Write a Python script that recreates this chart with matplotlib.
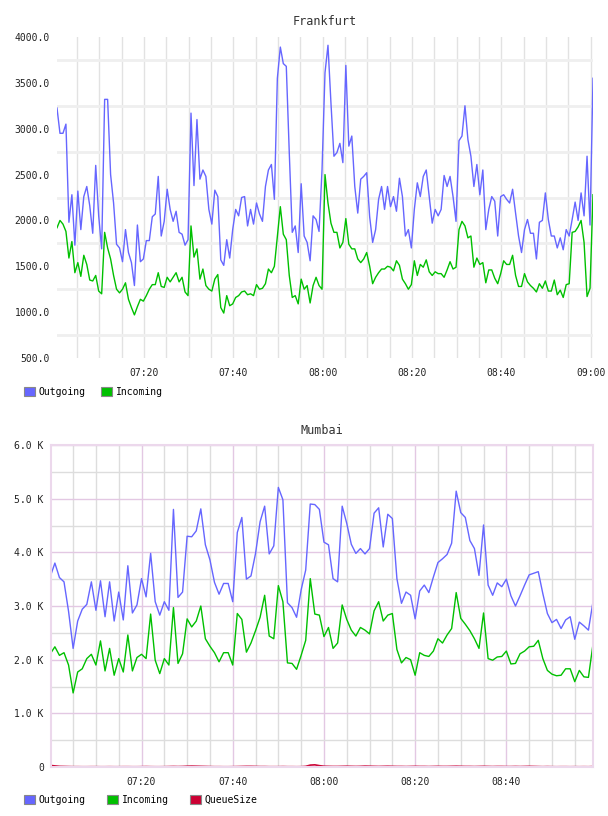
import matplotlib
matplotlib.use('Agg')
import matplotlib.pyplot as plt
import matplotlib.dates as mdates
from matplotlib.patches import Patch
from matplotlib.ticker import MultipleLocator, FixedLocator, FuncFormatter
import numpy as np

plt.rcParams['font.family'] = ['DejaVu Sans Mono']

BLUE = '#6666ff'
GREEN = '#00c000'
RED = '#cc0033'

# Frankfurt: one sample every 40 s starting 07:00:30
fra_start = np.datetime64('2020-01-01T07:00:30')
fra_out = [3225, 2950, 2950, 3050, 1980, 2280, 1730, 2320, 1900, 2260, 2370, 2160,
           1860, 2600, 2050, 1690, 3320, 3320, 2500, 2190, 1740, 1700, 1550, 1900,
           1650, 1540, 1290, 1950, 1550, 1580, 1780, 1780, 2040, 2070, 2480, 1830,
           1990, 2340, 2120, 1990, 2100, 1870, 1850, 1730, 1790, 3170, 2380, 3100,
           2450, 2550, 2480, 2120, 1960, 2330, 2260, 1570, 1510, 1790, 1590, 1900,
           2120, 2050, 2250, 2260, 1940, 2120, 1960, 2190, 2070, 1990, 2370, 2550,
           2610, 2230, 3550, 3890, 3710, 3680, 2740, 1870, 1940, 1650, 2400, 1830,
           1760, 1560, 2050, 2010, 1880, 2550, 3610, 3910, 3280, 2700, 2740, 2840,
           2630, 3690, 2810, 2920, 2370, 2080, 2450, 2480, 2520, 2040, 1760,
           1900, 2230, 2370, 2120, 2370, 2150, 2260, 2100, 2460, 2260, 1830, 1900,
           1700, 2120, 2410, 2260, 2480, 2550, 2260, 1970, 2120, 2050, 2120, 2490,
           2370, 2480, 2260, 1990, 2870, 2920, 3250, 2880, 2700, 2370, 2610, 2280,
           2550, 1900, 2120, 2260, 2210, 1830, 2260, 2280, 2230, 2190, 2340, 2080,
           1830, 1650, 1900, 2010, 1860, 1860, 1580, 1980, 2000, 2300, 2010, 1830,
           1830, 1700, 1810, 1680, 1900, 1830, 2010, 2200, 2000, 2300, 2050, 2700,
           1950, 3550]
fra_in = [1920, 2000, 1960, 1880, 1590, 1770, 1430, 1540, 1390, 1620, 1520, 1350,
          1340, 1400, 1230, 1200, 1870, 1700, 1580, 1400, 1250, 1210, 1250, 1320,
          1140, 1050, 970, 1060, 1140, 1120, 1180, 1250, 1300, 1300, 1430, 1280,
          1270, 1380, 1330, 1380, 1430, 1330, 1380, 1220, 1180, 1940, 1600, 1690,
          1360, 1470, 1290, 1250, 1230, 1360, 1410, 1050, 990, 1180, 1070, 1090,
          1160, 1180, 1220, 1230, 1190, 1200, 1180, 1300, 1250, 1260, 1310, 1470,
          1430, 1500, 1830, 2150, 1850, 1790, 1400, 1160, 1180, 1090, 1360, 1250,
          1290, 1100, 1290, 1380, 1290, 1250, 2500, 2190, 1970, 1870, 1870, 1700,
          1760, 2020, 1740, 1690, 1690, 1580, 1540, 1580, 1650, 1500, 1310,
          1380, 1430, 1470, 1470, 1500, 1490, 1450, 1560, 1510, 1360, 1310, 1250,
          1300, 1560, 1400, 1520, 1490, 1570, 1440, 1400, 1440, 1420, 1420, 1380,
          1460, 1550, 1470, 1490, 1900, 1990, 1940, 1810, 1830, 1490, 1590, 1520,
          1540, 1320, 1460, 1460, 1370, 1310, 1420, 1560, 1520, 1520, 1620, 1400,
          1280, 1280, 1420, 1330, 1290, 1260, 1220, 1310, 1260, 1340, 1230, 1230,
          1350, 1190, 1240, 1160, 1300, 1310, 1870, 1880, 1930, 2000, 1760, 1170,
          1260, 2280]
fra_times = fra_start + np.arange(len(fra_out)) * np.timedelta64(40, 's')

# Mumbai: one sample per minute starting 07:00
mum_start = np.datetime64('2020-01-01T07:00')
mum_out = [3550, 3800, 3530, 3450, 2900, 2210, 2720, 2940, 3030, 3450, 2920, 3470,
           2800, 3450, 2720, 3260, 2740, 3750, 2870, 3020, 3510, 3170, 3980, 3080,
           2830, 3080, 2920, 4800, 3160, 3260, 4300, 4290, 4400, 4810, 4140, 3860,
           3440, 3220, 3420, 3420, 3080, 4370, 4650, 3500, 3560, 3980, 4570, 4860,
           3970, 4120, 5210, 4980, 3060, 2970, 2790, 3300, 3670, 4900, 4890, 4800,
           4190, 4140, 3510, 3450, 4860, 4540, 4150, 3980, 4070, 3970, 4070, 4730,
           4830, 4100, 4710, 4630, 3510, 3050, 3260, 3200, 2760, 3280, 3390, 3250,
           3540, 3810, 3880, 3960, 4170, 5140, 4740, 4650, 4220, 4070, 3570, 4510,
           3390, 3200, 3430, 3360, 3500, 3190, 3000, 3190, 3390, 3580, 3610, 3640,
           3230, 2860, 2690, 2750, 2580, 2740, 2800, 2380, 2700, 2630, 2550, 3080]
mum_in = [2110, 2240, 2080, 2130, 1900, 1380, 1770, 1830, 2020, 2100, 1900, 2350,
          1790, 2210, 1710, 2020, 1770, 2460, 1790, 2040, 2100, 2020, 2850, 1990,
          1740, 2020, 1900, 2970, 1930, 2110, 2760, 2610, 2720, 3000, 2390, 2250,
          2130, 1960, 2130, 2130, 1900, 2860, 2750, 2140, 2310, 2540, 2790, 3200,
          2440, 2390, 3380, 3080, 1940, 1930, 1820, 2080, 2360, 3510, 2850, 2830,
          2430, 2600, 2210, 2310, 3020, 2750, 2550, 2440, 2600, 2550, 2480, 2910,
          3080, 2720, 2830, 2860, 2190, 1940, 2040, 2000, 1710, 2130, 2080, 2060,
          2160, 2390, 2310, 2460, 2580, 3250, 2770, 2660, 2540, 2390, 2210, 2870,
          2020, 1990, 2050, 2060, 2160, 1920, 1930, 2110, 2160, 2240, 2250, 2360,
          2020, 1800, 1730, 1700, 1710, 1830, 1830, 1590, 1800, 1680, 1670, 2290]
mum_queue = [30, 20, 12, 10, 8, 6, 6, 5, 5, 6, 6, 5, 5, 6, 5, 5, 6, 6, 5, 5,
             6, 8, 6, 5, 5, 6, 8, 10, 8, 10, 14, 16, 14, 12, 10, 8, 6, 6, 5, 5,
             6, 8, 10, 12, 12, 10, 8, 8, 6, 6, 6, 8, 6, 6, 5, 6, 12, 35, 40, 25,
             14, 12, 10, 10, 12, 14, 12, 10, 12, 16, 14, 12, 10, 12, 14, 12, 10, 10,
             8, 10, 12, 10, 10, 8, 10, 12, 10, 10, 12, 14, 12, 10, 10, 8, 10, 12,
             10, 8, 10, 10, 8, 8, 10, 8, 10, 12, 10, 8, 6, 8, 6, 5, 6, 6, 5, 6,
             5, 6, 5, 8]
mum_times = mum_start + np.arange(len(mum_out)) * np.timedelta64(1, 'm')

W, H = 608, 816
fig = plt.figure(figsize=(W / 100, H / 100), dpi=100)

# ---- Frankfurt ----
ax1 = fig.add_axes([57 / W, 1 - 358 / H, 536 / W, 321 / H])
ax1.plot(fra_times, fra_out, color=BLUE, lw=1.0)
ax1.plot(fra_times, fra_in, color=GREEN, lw=1.0)
ax1.set_xlim(fra_times[0], fra_times[-1])
ax1.set_ylim(500, 4000)
ax1.yaxis.set_major_locator(MultipleLocator(500))
ax1.yaxis.set_minor_locator(FixedLocator(np.arange(750, 4000, 500)))
ax1.yaxis.set_major_formatter(FuncFormatter(lambda v, p: f'{v:.1f}'))
ax1.xaxis.set_major_locator(mdates.MinuteLocator(byminute=[0, 20, 40]))
ax1.xaxis.set_minor_locator(mdates.MinuteLocator(byminute=range(0, 60, 5)))
ax1.xaxis.set_major_formatter(mdates.DateFormatter('%H:%M'))
ax1.grid(True, which='minor', axis='y', color='#efefef', lw=2)
ax1.grid(True, which='both', axis='x', color='#e2e2e2', lw=1)
ax1.set_axisbelow(True)
for s in ax1.spines.values():
    s.set_visible(False)
ax1.tick_params(which='both', length=0, labelsize=7, colors='#222222')
ax1.tick_params(axis='y', pad=5)
ax1.tick_params(axis='x', pad=7)
ax1.set_title('Frankfurt', fontsize=8.5, pad=8.5, color='#333333')

fig.legend(handles=[Patch(facecolor=BLUE, edgecolor='#888888', lw=0.8),
                    Patch(facecolor=GREEN, edgecolor='#888888', lw=0.8)],
           labels=['Outgoing', 'Incoming'], loc='center left',
           bbox_to_anchor=(24 / W, 1 - 392 / H), ncol=2, frameon=False,
           handlelength=1.1, handleheight=1.1, handletextpad=0.4,
           columnspacing=1.6, borderpad=0, borderaxespad=0,
           prop={'size': 7})

# ---- Mumbai ----
ax2 = fig.add_axes([50.7 / W, 1 - 767 / H, 542.3 / W, 322 / H])
ax2.plot(mum_times, mum_out, color=BLUE, lw=1.0)
ax2.plot(mum_times, mum_in, color=GREEN, lw=1.0)
ax2.plot(mum_times, mum_queue, color=RED, lw=1.2)
# the view starts a few seconds after the first sample, so 07:00 gets no label
ax2.set_xlim(mum_times[0] + np.timedelta64(5, 's'), mum_times[-1])
ax2.set_ylim(0, 6000)
ax2.yaxis.set_major_locator(MultipleLocator(1000))
ax2.yaxis.set_minor_locator(MultipleLocator(500))
ax2.yaxis.set_major_formatter(FuncFormatter(
    lambda v, p: '0' if v == 0 else f'{v / 1000:.1f} K'))
ax2.xaxis.set_major_locator(mdates.MinuteLocator(byminute=[0, 20, 40]))
ax2.xaxis.set_minor_locator(mdates.MinuteLocator(byminute=range(0, 60, 5)))
ax2.xaxis.set_major_formatter(mdates.DateFormatter('%H:%M'))
ax2.grid(True, which='major', color='#e3c8e3', lw=1)
ax2.grid(True, which='minor', color='#dddddd', lw=1)
ax2.set_axisbelow(True)
for s in ax2.spines.values():
    s.set_color('#ecd8ec')
    s.set_linewidth(1.5)
ax2.tick_params(which='both', length=0, labelsize=7, colors='#222222')
ax2.tick_params(axis='y', pad=5)
ax2.tick_params(axis='x', pad=7)
ax2.set_title('Mumbai', fontsize=8.5, pad=8, color='#333333')

fig.legend(handles=[Patch(facecolor=BLUE, edgecolor='#888888', lw=0.8),
                    Patch(facecolor=GREEN, edgecolor='#888888', lw=0.8),
                    Patch(facecolor=RED, edgecolor='#888888', lw=0.8)],
           labels=['Outgoing', 'Incoming', 'QueueSize'], loc='center left',
           bbox_to_anchor=(24 / W, 1 - 800 / H), ncol=3, frameon=False,
           handlelength=1.1, handleheight=1.1, handletextpad=0.4,
           columnspacing=2.2, borderpad=0, borderaxespad=0,
           prop={'size': 7})

fig.savefig('out.png', dpi=100)
